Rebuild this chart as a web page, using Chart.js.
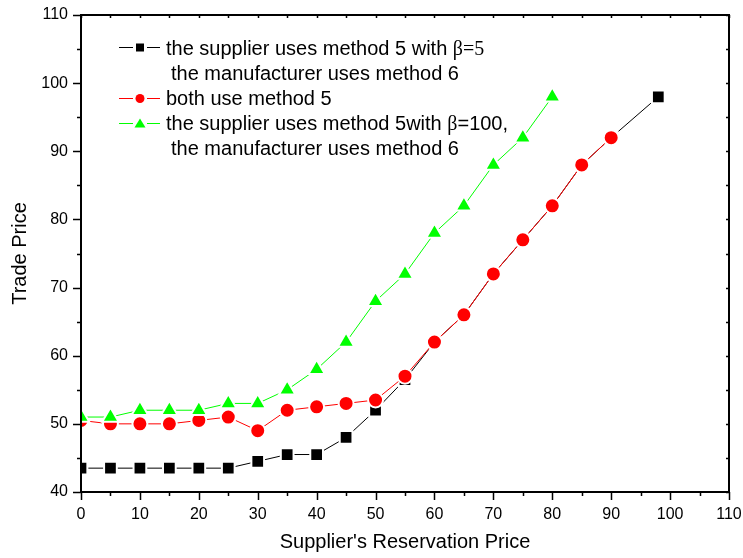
<!DOCTYPE html>
<html>
<head>
<meta charset="utf-8">
<script src="https://cdn.jsdelivr.net/npm/chart.js@4/dist/chart.umd.min.js"></script>
<style>
  html, body { margin: 0; padding: 0; background: #ffffff; }
  canvas { display: block; }
</style>
</head>
<body>
<canvas id="c" width="743" height="558"></canvas>
<script>
// ---- data ----
const blackX = [0, 5, 10, 15, 20, 25, 30, 35, 40, 45, 50, 55, 60, 65, 70, 75, 80, 85, 90, 98];
const blackY = [43.5, 43.5, 43.5, 43.5, 43.5, 43.5, 44.5, 45.5, 45.5, 48, 52, 56.5, 62, 66, 72, 77, 82, 88, 92, 98];

const redX = [0, 5, 10, 15, 20, 25, 30, 35, 40, 45, 50, 55, 60, 65, 70, 75, 80, 85, 90];
const redY = [50.5, 50, 50, 50, 50.5, 51, 49, 52, 52.5, 53, 53.5, 57, 62, 66, 72, 77, 82, 88, 92];

const greenX = [0, 5, 10, 15, 20, 25, 30, 35, 40, 45, 50, 55, 60, 65, 70, 75, 80];
const greenY = [51, 51, 52, 52, 52, 53, 53, 55, 58, 62, 68, 72, 78, 82, 88, 92, 98];

const seriesNames = [
  "the supplier uses method 5 with β=5 the manufacturer uses method 6",
  "both use method 5",
  "the supplier uses method 5with β=100, the manufacturer uses method 6"
];
const xTitle = "Supplier's Reservation Price";
const yTitle = "Trade Price";
const xMin = 0, xMax = 110, xStep = 10;
const yMin = 40, yMax = 110, yStep = 10;

const SANS = '"Liberation Sans", Arial, Helvetica, sans-serif';
const SERIF = '"Liberation Serif", "Times New Roman", serif';

function pts(xs, ys) { return xs.map((x, i) => ({ x: x, y: ys[i] })); }

// ---- frame, ticks and legend drawn on top of the chart ----
const framePlugin = {
  id: 'frame',
  afterDatasetsDraw(chart) {
    const { ctx, chartArea: a, scales } = chart;
    const xs = scales.x, ys = scales.y;
    ctx.save();
    ctx.strokeStyle = '#000';
    ctx.lineWidth = 2;
    ctx.strokeRect(a.left, a.top, a.right - a.left, a.bottom - a.top);
    ctx.lineWidth = 1.5;
    ctx.beginPath();
    for (let v = xMin; v <= xMax + 0.001; v += xStep / 2) {
      const major = Math.abs((v / xStep) - Math.round(v / xStep)) < 1e-6;
      const px = Math.round(xs.getPixelForValue(v)) + 0.5;
      ctx.moveTo(px, a.bottom);
      ctx.lineTo(px, a.bottom + (major ? 8 : 4));
      ctx.moveTo(px, a.top);
      ctx.lineTo(px, a.top + 3);
    }
    for (let v = yMin; v <= yMax + 0.001; v += yStep / 2) {
      const major = Math.abs((v / yStep) - Math.round(v / yStep)) < 1e-6;
      const py = Math.round(ys.getPixelForValue(v)) + 0.5;
      ctx.moveTo(a.left, py);
      ctx.lineTo(a.left - (major ? 8 : 4), py);
      ctx.moveTo(a.right, py);
      ctx.lineTo(a.right - 3, py);
    }
    ctx.stroke();
    ctx.restore();
  },
  afterDraw(chart) {
    const { ctx } = chart;
    const ds = chart.data.datasets;
    ctx.save();
    const lx1 = 119, lx2 = 160, mx = 140;
    function sample(d, y) {
      ctx.strokeStyle = d.borderColor;
      ctx.lineWidth = 1;
      ctx.beginPath();
      ctx.moveTo(lx1, y + 0.5); ctx.lineTo(mx - 7, y + 0.5);
      ctx.moveTo(mx + 7, y + 0.5); ctx.lineTo(lx2, y + 0.5);
      ctx.stroke();
      ctx.fillStyle = d.pointBackgroundColor;
      ctx.beginPath();
      if (d.pointStyle === 'rect') {
        ctx.rect(mx - 4, y - 3.5, 8, 8);
      } else if (d.pointStyle === 'circle') {
        ctx.arc(mx, y + 0.5, 4.5, 0, Math.PI * 2);
      } else {
        ctx.moveTo(mx, y - 4.5);
        ctx.lineTo(mx + 5.5, y + 4.5);
        ctx.lineTo(mx - 5.5, y + 4.5);
        ctx.closePath();
      }
      ctx.fill();
    }
    function parts(list, x, y) {
      ctx.textBaseline = 'alphabetic';
      ctx.textAlign = 'left';
      ctx.fillStyle = '#000';
      for (const [txt, font] of list) {
        ctx.font = font;
        ctx.fillText(txt, x, y);
        x += ctx.measureText(txt).width;
      }
    }
    const fS = '20px ' + SANS, fR = '20px ' + SERIF;
    sample(ds[0], 47);
    parts([["the supplier uses method 5 with ", fS], ["β=5", fR]], 166, 55);
    parts([["the manufacturer uses method 6", fS]], 171, 80);
    sample(ds[1], 98);
    parts([["both use method 5", fS]], 166, 105);
    sample(ds[2], 123);
    parts([["the supplier uses method 5with ", fS], ["β", fR], ["=100,", fS]], 166, 130);
    parts([["the manufacturer uses method 6", fS]], 171, 155);
    ctx.restore();
  }
};

new Chart(document.getElementById('c'), {
  type: 'scatter',
  data: {
    datasets: [
      {
        label: seriesNames[0],
        data: pts(blackX, blackY),
        showLine: true,
        borderColor: '#000000',
        backgroundColor: '#000000',
        borderWidth: 1,
        pointStyle: 'rect',
        pointRadius: 9,
        pointBackgroundColor: '#000000',
        pointBorderColor: '#ffffff',
        pointBorderWidth: 2,
        order: 3
      },
      {
        label: seriesNames[1],
        data: pts(redX, redY),
        showLine: true,
        borderColor: '#ff0000',
        backgroundColor: '#ff0000',
        borderWidth: 1,
        pointStyle: 'circle',
        pointRadius: 7.5,
        pointBackgroundColor: '#ff0000',
        pointBorderColor: '#ffffff',
        pointBorderWidth: 2,
        order: 2
      },
      {
        label: seriesNames[2],
        data: pts(greenX, greenY),
        showLine: true,
        borderColor: '#00ff00',
        backgroundColor: '#00ff00',
        borderWidth: 1,
        pointStyle: 'triangle',
        pointRadius: 9.5,
        pointBackgroundColor: '#00ff00',
        pointBorderColor: '#ffffff',
        pointBorderWidth: 2,
        order: 1
      }
    ]
  },
  options: {
    responsive: false,
    animation: false,
    devicePixelRatio: 1,
    layout: { padding: { top: 15, right: 14, left: 0, bottom: 0 } },
    plugins: {
      legend: { display: false },
      tooltip: { enabled: false }
    },
    scales: {
      x: {
        type: 'linear',
        min: xMin, max: xMax,
        afterFit(s) { s.height = 66; s.paddingLeft = 0; s.paddingRight = 0; },
        grid: { display: false, drawTicks: false },
        border: { display: false },
        ticks: {
          stepSize: xStep,
          padding: 13,
          color: '#000',
          font: { family: SANS, size: 16 },
          maxRotation: 0
        },
        title: {
          display: true,
          text: xTitle,
          color: '#000',
          font: { family: SANS, size: 20 },
          padding: { top: 0, bottom: 4 }
        }
      },
      y: {
        type: 'linear',
        min: yMin, max: yMax,
        afterFit(s) { s.width = 81; s.paddingTop = 0; s.paddingBottom = 0; },
        grid: { display: false, drawTicks: false },
        border: { display: false },
        ticks: {
          stepSize: yStep,
          padding: 13,
          color: '#000',
          font: { family: SANS, size: 16 }
        },
        title: {
          display: true,
          text: yTitle,
          color: '#000',
          font: { family: SANS, size: 20 },
          padding: { top: 8, bottom: 0 }
        }
      }
    }
  },
  plugins: [framePlugin]
});
</script>
</body>
</html>
